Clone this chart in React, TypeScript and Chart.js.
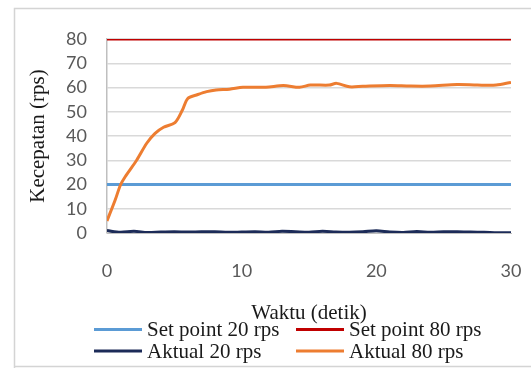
import React, { useEffect, useRef } from "react";
import { Chart, registerables } from "chart.js";

Chart.register(...registerables);

// ---- data ----
const seriesLabels = ["Set point 20 rps", "Set point 80 rps", "Aktual 20 rps", "Aktual 80 rps"];
const seriesColors = ["#5b9bd5", "#c00000", "#1c2b58", "#ed7d31"];

const setPointTime = [0, 30];
const setPoint20 = [20, 20];
const setPoint80 = [80, 80];

const aktual20Time = [0, 1, 2, 3, 4, 5, 6, 7, 8, 9, 10, 11, 12, 13, 14, 15, 16, 17, 18, 19, 20, 21, 22, 23, 24, 25, 26, 27, 28, 29, 30];
const aktual20 = [1.0, 0.3, 0.7, 0.2, 0.4, 0.5, 0.4, 0.5, 0.5, 0.3, 0.4, 0.5, 0.3, 0.7, 0.5, 0.3, 0.7, 0.4, 0.3, 0.5, 0.9, 0.4, 0.2, 0.6, 0.3, 0.5, 0.5, 0.4, 0.3, 0.1, 0.1];

const aktual80Time = [0, 0.6, 1.0, 1.35, 2.2, 2.95, 3.55, 4.2, 5.05, 5.6, 6.0, 6.65, 7.4, 8.1, 9.1, 10.1, 11.8, 13.1, 14.3, 15.1, 16.5, 17.05, 18, 19, 21, 22.5, 24, 26, 27.5, 28.9, 30];
const aktual80 = [5, 13.5, 19.8, 23.2, 30, 37, 41, 43.6, 45.5, 50.7, 55.5, 56.9, 58.3, 59, 59.3, 60.1, 60.1, 60.8, 60.1, 61, 61, 61.7, 60.3, 60.5, 60.8, 60.6, 60.6, 61.2, 61, 61, 62.1];

const yTickMin = 0;
const yTickMax = 80;
const yTickStep = 10;
const xTickMin = 0;
const xTickMax = 30;
const xTickStep = 10;

const xTitle = "Waktu (detik)";
const yTitle = "Kecepatan (rps)";

const toPoints = (xs: number[], ys: number[]) => xs.map((x, i) => ({ x, y: ys[i] }));

const W = 531;
const H = 368;

const framePlugin = {
  id: "frame",
  beforeDraw(chart: any) {
    const ctx = chart.ctx;
    ctx.save();
    ctx.fillStyle = "#ffffff";
    ctx.fillRect(0, 0, chart.width, chart.height);
    ctx.strokeStyle = "#d4d4d4";
    ctx.lineWidth = 1.5;
    ctx.beginPath();
    ctx.moveTo(14.5, H + 5);
    ctx.lineTo(14.5, 8.5);
    ctx.lineTo(W + 5, 8.5);
    ctx.moveTo(14.5, 366.5);
    ctx.lineTo(W + 5, 366.5);
    ctx.stroke();
    ctx.restore();
  },
};

const legendPlugin = {
  id: "gridLegend",
  afterDraw(chart: any) {
    const ctx = chart.ctx;
    const cols = [94, 296];
    const rows = [329.5, 351];
    chart.data.datasets.forEach((ds: any, i: number) => {
      const x = cols[i % 2];
      const y = rows[Math.floor(i / 2)];
      ctx.save();
      ctx.strokeStyle = ds.borderColor;
      ctx.lineWidth = 3;
      ctx.beginPath();
      ctx.moveTo(x, y);
      ctx.lineTo(x + 48, y);
      ctx.stroke();
      ctx.fillStyle = "#1a1a1a";
      ctx.font = "21px 'Liberation Serif'";
      ctx.textBaseline = "middle";
      ctx.textAlign = "left";
      ctx.fillText(ds.label, x + 53, y + 1);
      ctx.restore();
    });
  },
};

export default function App() {
  const canvasRef = useRef<HTMLCanvasElement | null>(null);

  useEffect(() => {
    if (!canvasRef.current) return;
    const mk = (i: number, data: any[], order: number) => ({
      label: seriesLabels[i],
      data,
      borderColor: seriesColors[i],
      backgroundColor: seriesColors[i],
      borderWidth: 3,
      pointRadius: 0,
      tension: 0.3,
      fill: false,
      order,
    });
    const chart = new Chart(canvasRef.current, {
      type: "line",
      data: {
        datasets: [
          mk(0, toPoints(setPointTime, setPoint20), 3),
          mk(1, toPoints(setPointTime, setPoint80), 2),
          mk(2, toPoints(aktual20Time, aktual20), 1),
          mk(3, toPoints(aktual80Time, aktual80), 0),
        ],
      },
      options: {
        responsive: false,
        animation: false,
        devicePixelRatio: 1,
        layout: { padding: { left: 0, right: 20, top: 39, bottom: 0 } },
        plugins: {
          legend: { display: false },
          tooltip: { enabled: false },
        },
        scales: {
          x: {
            type: "linear",
            min: xTickMin,
            max: xTickMax,
            ticks: {
              stepSize: xTickStep,
              padding: 27,
              color: "#595959",
              font: { family: "Lato", size: 18 },
              maxRotation: 0,
              autoSkip: false,
            },
            grid: { display: false, drawTicks: false },
            border: { display: true, color: "#bfbfbf" },
            title: {
              display: true,
              text: xTitle,
              color: "#1a1a1a",
              font: { family: "Liberation Serif", size: 21, lineHeight: 1.2 },
              padding: { top: 0, bottom: 42 },
            },
            afterFit(scale: any) {
              scale.height = 135;
              scale.paddingLeft = 0;
              scale.paddingRight = 10;
            },
          },
          y: {
            type: "linear",
            min: yTickMin,
            max: yTickMax,
            ticks: {
              stepSize: yTickStep,
              padding: 20,
              color: "#595959",
              font: { family: "Lato", size: 18 },
              autoSkip: false,
            },
            grid: { color: "#d9d9d9", lineWidth: 1.5, drawTicks: false },
            border: { display: true, color: "#bfbfbf", width: 1.5 },
            title: {
              display: true,
              text: yTitle,
              color: "#1a1a1a",
              font: { family: "Liberation Serif", size: 21, lineHeight: 1.2 },
              padding: { top: 26, bottom: 0 },
            },
            afterFit(scale: any) {
              scale.width = 107;
              scale.paddingTop = 10;
              scale.paddingBottom = 10;
            },
          },
        },
      },
      plugins: [framePlugin, legendPlugin],
    } as any);
    return () => chart.destroy();
  }, []);

  return (
    <div style={{ position: "absolute", left: 0, top: 0, width: W, height: H, background: "#fff" }}>
      <canvas ref={canvasRef} width={W} height={H} style={{ display: "block", width: W, height: H }} />
    </div>
  );
}
